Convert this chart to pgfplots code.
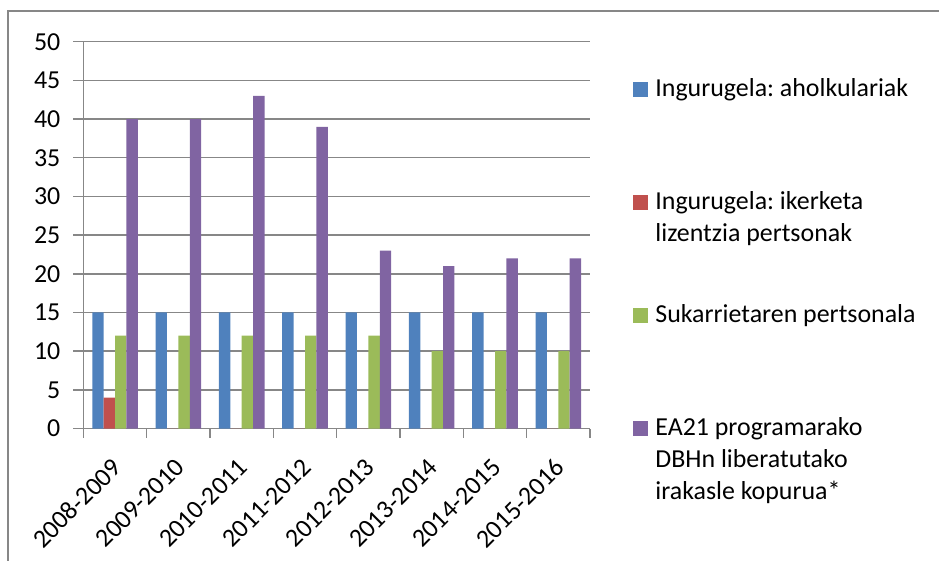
\documentclass[border=0pt]{standalone}
\usepackage{fontspec}
\setmainfont{Carlito}
\usepackage{pgfplots}
\pgfplotsset{compat=1.18}
\definecolor{azul}{HTML}{4F81BD}
\definecolor{rojo}{HTML}{C0504D}
\definecolor{verde}{HTML}{9BBB59}
\definecolor{morado}{HTML}{8064A2}
\definecolor{rejilla}{HTML}{878787}
\pgfplotsset{sq/.style={/pgfplots/legend image code/.code={\fill (0bp,-0.5bp) rectangle (7.5bp,7bp);}}}

\begin{document}
\frenchspacing
\begin{tikzpicture}[font=\fontsize{13}{16.2}\selectfont]
\useasboundingbox (-41.7bp,-66.25bp) rectangle (427.8bp,214.25bp);
\begin{axis}[
  scale only axis, width=253.3bp, height=193.4bp,
  xmin=-0.5, xmax=7.5, ymin=0, ymax=50,
  axis x line*=bottom, axis y line*=left,
  axis line style={draw=rejilla, line width=0.75bp},
  ymajorgrids, grid style={rejilla, line width=0.75bp},
  tick align=outside, major tick length=5bp, minor tick length=4.5bp,
  tick style={rejilla, line width=0.75bp},
  ytick={0,5,...,50},
  yticklabel style={xshift=-3bp},
  xtick={0,...,7}, major x tick style={draw=none},
  minor xtick={-0.5,0.5,...,7.5},
  minor x tick style={rejilla, line width=0.75bp},
  xticklabels={2008-2009,2009-2010,2010-2011,2011-2012,2012-2013,2013-2014,2014-2015,2015-2016},
  xticklabel style={xshift=-2.3bp, yshift=-9bp, rotate=45, anchor=north east, inner sep=0pt},
  /pgf/number format/assume math mode=true,
  ybar=0pt, bar width=0.18,
  every axis plot post/.append style={sq},
  legend style={draw=none, fill=none, inner sep=0pt, row sep=0pt, column sep=0pt,
    cells={anchor=base west},
    at={(1.0849,0.9113)}, anchor=north west,
    nodes={inner xsep=3.5bp, inner ysep=0pt, text height=10bp, text depth=46.5bp}},
]
\addplot[fill=azul, draw=none] coordinates {(0,15) (1,15) (2,15) (3,15) (4,15) (5,15) (6,15) (7,15)};
\addlegendentry{Ingurugela: aholkulariak}
\addplot[fill=rojo, draw=none] coordinates {(0,4) (1,0) (2,0) (3,0) (4,0) (5,0) (6,0) (7,0)};
\addlegendentry{\parbox[t]{4.5cm}{Ingurugela: ikerketa\\lizentzia pertsonak}}
\addplot[fill=verde, draw=none] coordinates {(0,12) (1,12) (2,12) (3,12) (4,12) (5,10) (6,10) (7,10)};
\addlegendentry{Sukarrietaren pertsonala}
\addplot[fill=morado, draw=none] coordinates {(0,40) (1,40) (2,43) (3,39) (4,23) (5,21) (6,22) (7,22)};
\addlegendentry{\parbox[t]{4.5cm}{EA21 programarako\\DBHn liberatutako\\irakasle kopurua*}}
\end{axis}
\draw[rejilla, line width=0.8bp] (-37.7bp,-66.25bp) -- (-37.7bp,208.75bp) -- (427.8bp,208.75bp);
\end{tikzpicture}
\end{document}
